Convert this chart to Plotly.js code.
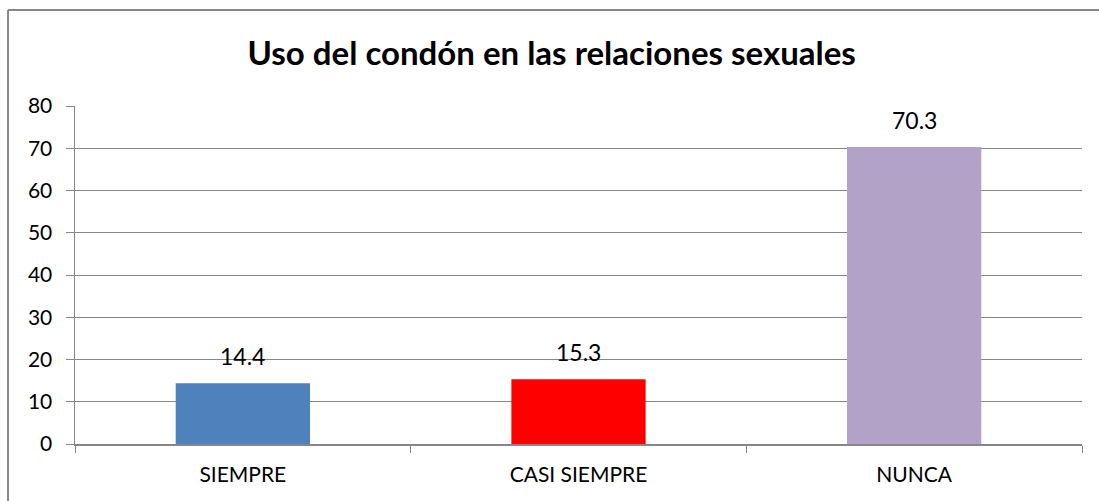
<!DOCTYPE html>
<html><head><meta charset="utf-8">
<script src="https://cdn.plot.ly/plotly-3.0.1.min.js"></script>
<style>
html,body{margin:0;padding:0;background:#fff;overflow:hidden;}
#wrap{position:relative;width:1099px;height:501px;overflow:hidden;}
#chart{position:absolute;left:0;top:0;width:1099px;height:501px;}
</style></head>
<body><div id="wrap"><div id="chart"></div></div>
<script>
const categories = ["SIEMPRE", "CASI SIEMPRE", "NUNCA"];
const values = [14.4, 15.3, 70.3];
const barColors = ["#4F81BD", "#FF0000", "#B2A2C7"];
const yTicks = [0, 10, 20, 30, 40, 50, 60, 70, 80];
const titleText = "Uso del condón en las relaciones sexuales";

const font = "Lato, 'Open Sans', sans-serif";
const trace = {
  type: "bar", x: categories, y: values,
  marker: {color: barColors, line: {width: 0}},
  width: 0.4, hoverinfo: "none"
};
const annotations = categories.map((c, i) => ({
  x: c, y: values[i], xref: "x", yref: "y", text: values[i].toFixed(1),
  showarrow: false, yanchor: "bottom", yshift: 11,
  font: {family: font, size: 23, color: "#000"}
}));
const layout = {
  width: 1099, height: 501,
  margin: {l: 75, r: 17, t: 106, b: 57},
  paper_bgcolor: "#fff", plot_bgcolor: "#fff",
  showlegend: false,
  title: {text: "<b>" + titleText + "</b>", x: 0.502, xanchor: "center", y: 0.893, yanchor: "middle",
          font: {family: font, size: 33, color: "#000"}},
  xaxis: {type: "category", tickson: "boundaries", ticks: "outside", ticklen: 7, tickcolor: "#868686",
          showline: true, linecolor: "#868686", linewidth: 2, showgrid: false,
          tickfont: {family: font, size: 21, color: "#000"}, ticklabelstandoff: 11, range: [-0.5, 2.5]},
  yaxis: {range: [0, 80], tickvals: yTicks, ticks: "outside", ticklen: 8, tickcolor: "#868686",
          showline: true, linecolor: "#868686", linewidth: 1.5, showgrid: true, gridcolor: "#868686",
          gridwidth: 1, zeroline: false, tickfont: {family: font, size: 21, color: "#000"}, ticklabelstandoff: 9},
  shapes: [
    {type: "line", xref: "paper", yref: "paper", x0: -0.0665, x1: -0.0665, y0: -0.3, y1: 1.284,
     line: {color: "#898989", width: 2}},
    {type: "line", xref: "paper", yref: "paper", x0: -0.0665, x1: 1.05, y0: 1.284, y1: 1.284,
     line: {color: "#898989", width: 2}}
  ],
  annotations: annotations
};
Plotly.newPlot("chart", [trace], layout, {staticPlot: true});
</script></body></html>
